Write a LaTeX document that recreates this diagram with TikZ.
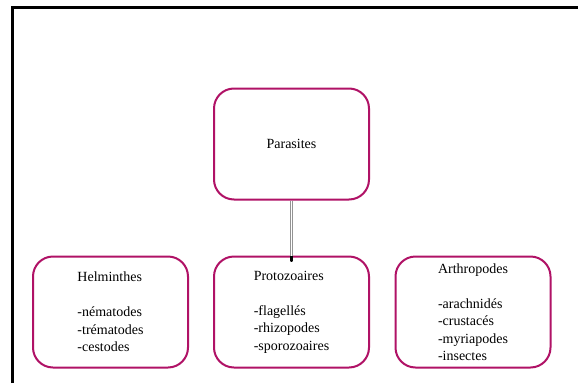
\documentclass[tikz,border=0pt]{standalone}
\usepackage{fontspec}
\setmainfont{Liberation Serif}
\usetikzlibrary{arrows.meta}
\definecolor{boxline}{RGB}{176,18,102}
\begin{document}
\begin{tikzpicture}[x=1pt,y=-1pt,
  box/.style={draw=boxline, line width=2pt, rounded corners=20pt, fill=white,
    minimum width=155pt, minimum height=111pt, align=left,
    font=\fontsize{14}{17.5}\selectfont, inner sep=0pt},
  dbl/.style={draw=gray!85, double=white, double distance=1.8pt, line width=0.8pt}]
\useasboundingbox (0,0) rectangle (578,383);
\fill[white] (0,0) rectangle (578,383);
\draw[line width=3.2pt] (12.5,383) -- (12.5,7.5) -- (578,7.5);
\node[box] (par) at (291.5,144) {Parasites};
\node[box] (hel) at (110.5,312) {Helminthes\\[17.5pt]-nématodes\\-trématodes\\-cestodes};
\node[box] (pro) at (291.5,312) {Protozoaires\\[17.5pt]-flagellés\\-rhizopodes\\-sporozoaires};
\node[box] (art) at (473,312) {Arthropodes\\[17.5pt]-arachnidés\\-crustacés\\-myriapodes\\-insectes};
\draw[dbl] (par.south) -- ([yshift=-6pt]pro.north);
\draw[-{Rectangle[length=5pt,width=2.5pt]}, black, line width=1.5pt] ([yshift=-6pt]pro.north) -- (pro.north);
\end{tikzpicture}
\end{document}
